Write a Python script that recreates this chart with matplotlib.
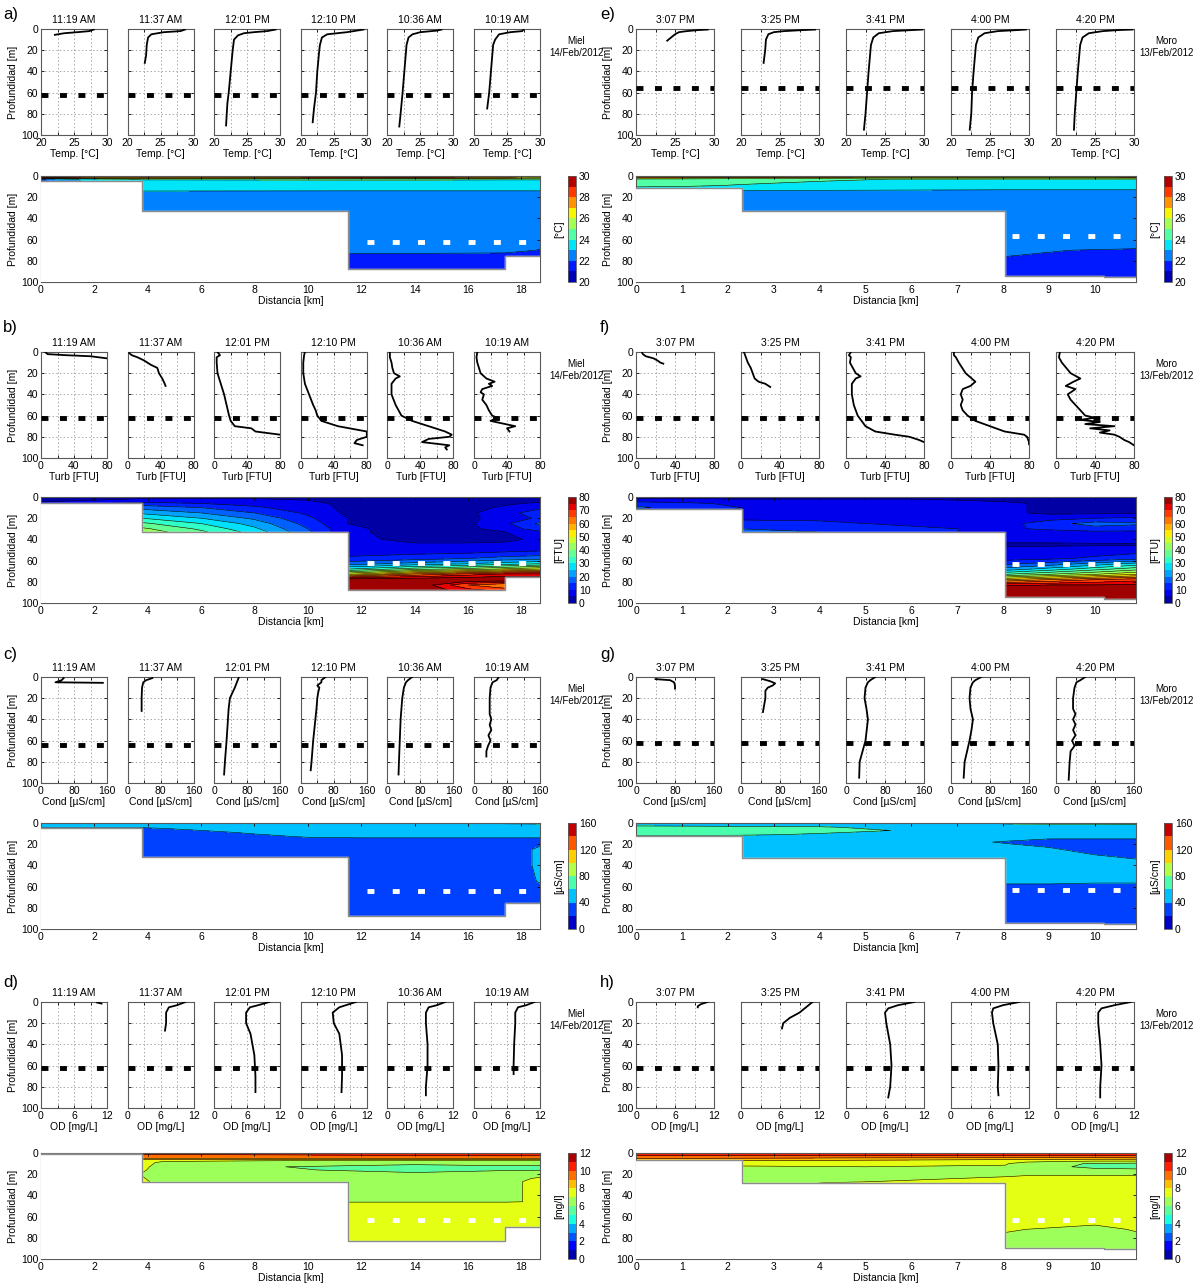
import numpy as np
import matplotlib.pyplot as plt

plt.rcParams['font.family'] = ['Liberation Sans', 'DejaVu Sans']
plt.rcParams['lines.scale_dashes'] = False

# ---------------- data ----------------
times_miel = ['11:19 AM', '11:37 AM', '12:01 PM', '12:10 PM', '10:36 AM', '10:19 AM']
times_moro = ['3:07 PM', '3:25 PM', '3:41 PM', '4:00 PM', '4:20 PM']

# temperature profiles (depth, value)
temp_miel_z = [[0.5, 2, 3, 4, 5.5],
               [0.5, 2, 3, 5, 8, 15, 25, 32],
               [0.5, 2, 3, 4, 6, 10, 15, 20, 40, 60, 70, 80, 91],
               [0.5, 1, 3, 5, 8, 15, 20, 40, 60, 75, 88],
               [0.5, 1.5, 3, 5, 8, 15, 30, 60, 80, 92],
               [0.5, 2, 3, 5, 10, 15, 30, 60, 75]]
temp_miel_v = [[28.0, 27.3, 25.5, 23.5, 22.1],
               [28.7, 28.0, 25.5, 23.6, 23.1, 22.9, 22.8, 22.6],
               [29.3, 28.0, 26.0, 24.5, 23.6, 23.0, 22.9, 22.8, 22.5, 22.2, 22.0, 21.9, 21.8],
               [29.5, 29.0, 27.0, 24.0, 23.2, 22.9, 22.8, 22.5, 22.3, 22.0, 21.8],
               [28.2, 27.5, 25.0, 23.8, 23.2, 22.9, 22.7, 22.3, 22.0, 21.8],
               [27.5, 27.3, 25.5, 23.8, 23.2, 22.9, 22.7, 22.3, 22.0]]
temp_moro_z = [[0.5, 1, 2, 3, 5, 8, 11],
               [0.5, 1, 2, 3, 5, 10, 20, 32],
               [0.5, 1, 2, 4, 8, 15, 40, 60, 80, 95],
               [0.5, 1, 2, 4, 8, 15, 40, 60, 80, 95],
               [0.5, 1, 2, 4, 8, 15, 40, 60, 80, 95]]
temp_moro_v = [[29.2, 28.0, 26.5, 25.5, 25.0, 24.5, 24.0],
               [29.5, 28.0, 25.5, 24.2, 23.5, 23.2, 23.1, 22.9],
               [29.8, 28.5, 26.0, 24.2, 23.5, 23.2, 22.9, 22.7, 22.5, 22.3],
               [29.6, 28.5, 26.0, 24.3, 23.5, 23.2, 22.9, 22.7, 22.6, 22.4],
               [29.8, 28.0, 26.0, 24.2, 23.4, 23.1, 22.8, 22.6, 22.4, 22.3]]

# turbidity profiles
turb_miel_z = [[0, 2, 3, 4, 6],
               [1, 3, 5, 8, 12, 15, 20, 25, 30, 32],
               [0, 3, 5, 10, 20, 30, 40, 50, 60, 65, 70, 72, 75, 78],
               [0, 3, 10, 20, 30, 40, 50, 55, 60, 65, 70, 75, 80, 83, 86, 88],
               [0, 5, 10, 15, 20, 23, 25, 30, 40, 50, 60, 65, 70, 75, 78, 80, 82, 85, 88, 90, 92],
               [0, 5, 10, 20, 25, 28, 30, 32, 35, 38, 40, 45, 50, 55, 60, 62, 65, 68, 70, 72, 75]]
turb_miel_v = [[5, 8, 30, 60, 80],
               [2, 5, 12, 20, 28, 36, 38, 42, 45, 46],
               [4, 7, 3, 3, 4, 8, 12, 15, 18, 20, 25, 45, 50, 80],
               [5, 4, 3, 3, 5, 10, 15, 18, 20, 25, 45, 80, 80, 68, 65, 75],
               [3, 3, 5, 6, 8, 15, 10, 5, 5, 10, 17, 30, 50, 70, 78, 75, 50, 42, 75, 70, 72],
               [4, 3, 4, 8, 15, 25, 18, 22, 10, 8, 12, 10, 15, 18, 22, 28, 20, 38, 50, 40, 43]]
turb_moro_z = [[0, 2, 4, 6, 8, 10, 11],
               [0, 5, 10, 15, 20, 25, 28, 30, 33],
               [0, 3, 5, 10, 20, 23, 25, 30, 40, 50, 60, 70, 75, 78, 80, 83, 85],
               [0, 3, 5, 10, 20, 28, 32, 35, 40, 45, 50, 55, 60, 65, 70, 75, 78, 80, 85, 87],
               [0, 5, 10, 20, 25, 28, 32, 35, 40, 45, 50, 55, 60, 62, 64, 66, 68, 70, 72, 74, 76, 78, 80, 83, 85, 88]]
turb_moro_v = [[6, 7, 10, 18, 22, 25, 28],
               [3, 5, 7, 10, 12, 14, 18, 25, 30],
               [5, 3, 5, 4, 10, 15, 10, 6, 6, 8, 12, 20, 30, 50, 65, 75, 80],
               [3, 3, 5, 8, 15, 25, 20, 12, 10, 12, 10, 12, 17, 25, 40, 55, 75, 78, 80, 80],
               [4, 3, 6, 15, 25, 18, 10, 20, 12, 15, 20, 25, 30, 40, 25, 45, 30, 60, 35, 55, 45, 60, 65, 70, 75, 80]]

# conductivity profiles
cond_miel_z = [[1, 3, 5, 5.5],
               [1, 3, 5, 10, 20, 32],
               [0, 5, 10, 20, 30, 60, 80, 92],
               [0, 3, 5, 8, 10, 15, 20, 30, 60, 80, 88],
               [0, 3, 5, 10, 20, 40, 60, 80, 92],
               [0, 3, 5, 10, 20, 35, 40, 45, 50, 55, 60, 65, 70, 75]]
cond_miel_v = [[55, 50, 35, 150],
               [60, 45, 38, 35, 34, 34],
               [60, 55, 50, 38, 35, 30, 26, 24],
               [60, 50, 50, 40, 45, 42, 40, 38, 30, 26, 24],
               [60, 50, 45, 40, 36, 32, 30, 28, 27],
               [60, 55, 45, 40, 38, 38, 42, 38, 42, 35, 40, 34, 30, 30]]
cond_moro_z = [[2, 3, 5, 8, 11],
               [2, 4, 6, 8, 10, 13, 20, 33],
               [0, 3, 5, 10, 20, 30, 40, 60, 80, 95],
               [0, 3, 5, 10, 20, 30, 40, 50, 60, 80, 95],
               [0, 3, 5, 10, 20, 30, 35, 40, 45, 50, 55, 60, 65, 70, 80, 97]]
cond_moro_v = [[40, 70, 78, 80, 80],
               [45, 60, 70, 65, 55, 50, 50, 45],
               [60, 50, 45, 40, 38, 42, 45, 40, 28, 27],
               [62, 50, 45, 40, 38, 40, 45, 42, 38, 28, 26],
               [60, 50, 42, 38, 35, 35, 40, 35, 40, 35, 40, 33, 38, 30, 28, 26]]

# dissolved oxygen profiles
od_miel_z = [[0.5, 1.5],
             [0, 3, 5, 10, 20, 27],
             [0, 3, 5, 10, 20, 30, 50, 70, 85],
             [0, 5, 10, 20, 30, 50, 70, 85],
             [0, 3, 5, 10, 20, 40, 60, 80, 88],
             [0, 3, 5, 10, 20, 40, 60, 68]]
od_miel_v = [[10.2, 11.0],
             [10.5, 9.0, 7.5, 7.0, 7.0, 6.8],
             [10.0, 8.0, 6.5, 5.8, 5.8, 6.6, 7.3, 7.5, 7.5],
             [10.0, 7.0, 5.8, 6.0, 7.0, 7.5, 7.5, 7.4],
             [10.5, 9.0, 7.5, 7.0, 7.0, 7.3, 7.3, 7.0, 7.0],
             [11.0, 9.5, 8.0, 7.5, 7.5, 7.3, 7.2, 7.2]]
od_moro_z = [[0, 2, 4, 5],
             [0, 5, 10, 15, 20, 25],
             [0, 3, 6, 10, 20, 40, 60, 80, 90],
             [0, 3, 6, 10, 20, 40, 60, 80, 88],
             [0, 3, 6, 10, 20, 40, 60, 80, 90]]
od_moro_v = [[11.0, 10.0, 9.5, 9.5],
             [11.0, 10.0, 9.0, 7.5, 6.5, 6.3],
             [10.5, 8.0, 6.5, 6.0, 6.2, 6.8, 7.0, 6.8, 6.5],
             [10.5, 8.0, 6.5, 6.3, 6.5, 7.2, 7.3, 7.2, 7.3],
             [11.5, 9.0, 7.0, 6.5, 6.5, 6.8, 7.0, 6.8, 6.8]]

# bathymetry steps
edges_miel = [0, 3.8, 11.5, 17.4, 18.7]
edges_moro = [0, 2.3, 8.05, 10.2, 10.9]
bot_a = [5, 33, 88, 75]
bot_b = [6, 33, 88, 75]
bot_c = [5, 32, 88, 75]
bot_d = [1, 27, 83, 70]
bot_e = [11, 33, 94, 95]
bot_f = [11, 33, 94, 96]
bot_g = [12, 33, 94, 95]
bot_h = [7, 28, 90, 91]

# section grids (rows = depth, cols = distance)
sec_a_x = [0, 2, 3.8, 11.5, 14, 17.4, 18.7]
sec_a_z = [0, 1.5, 3, 5, 13, 15, 40, 70, 76, 100]
sec_a_v = [[28.5, 28.5, 28.6, 29.2, 29.3, 28.5, 26.8],
           [28.0, 27.5, 27.0, 27.5, 27.8, 27.0, 25.8],
           [21.9, 23.5, 24.2, 24.3, 24.3, 24.2, 24.2],
           [21.8, 23.4, 23.6, 23.6, 23.6, 23.6, 23.6],
           [23.3, 23.3, 23.3, 23.2, 23.2, 23.2, 23.2],
           [22.8, 22.8, 22.8, 22.8, 22.8, 22.8, 22.8],
           [22.5, 22.5, 22.5, 22.5, 22.5, 22.5, 22.5],
           [22.2, 22.2, 22.2, 22.2, 22.2, 22.15, 21.98],
           [21.8, 21.8, 21.8, 21.8, 21.8, 21.8, 21.8],
           [21.7, 21.7, 21.7, 21.7, 21.7, 21.7, 21.7]]

sec_b_x = [0, 3.8, 6, 8, 10, 11.5, 14, 16, 17.4, 18.7]
sec_b_z = [0, 3, 6, 10, 15, 20, 25, 30, 33, 40, 50, 58, 63, 68, 73, 78, 83, 88, 100]
sec_b_v = [[3, 4, 4, 4, 4, 4, 4, 4, 4, 4],
           [4, 6, 6, 6, 5, 4, 3, 3, 3, 3],
           [6, 12, 10, 8, 6, 4, 3, 3, 4, 6],
           [6, 18, 15, 11, 7, 4, 3, 3, 6, 9],
           [6, 24, 20, 15, 9, 4, 3, 4, 8, 13],
           [6, 30, 25, 19, 11, 5, 3, 4, 7, 11],
           [6, 36, 30, 23, 13, 5, 3, 4, 9, 16],
           [6, 41, 34, 26, 15, 6, 3, 4, 7, 13],
           [6, 43, 36, 28, 16, 6, 3, 4, 5, 9],
           [6, 43, 36, 28, 16, 6, 4, 4, 4, 6],
           [6, 43, 36, 28, 16, 7, 7, 7, 8, 9],
           [6, 43, 36, 28, 16, 11, 13, 15, 17, 18],
           [6, 43, 36, 28, 16, 18, 22, 25, 28, 30],
           [6, 43, 36, 28, 16, 30, 38, 42, 46, 50],
           [6, 43, 36, 28, 16, 50, 62, 68, 72, 72],
           [6, 43, 36, 28, 16, 79, 82, 82, 82, 82],
           [6, 43, 36, 28, 16, 82, 80, 65, 60, 82],
           [6, 43, 36, 28, 16, 82, 80, 72, 68, 82],
           [6, 43, 36, 28, 16, 82, 80, 72, 68, 82]]

sec_c_x = [0, 3.8, 6, 8, 10, 12, 16, 17.5, 18.7]
sec_c_z = [0, 2, 5, 9, 13, 16, 25, 40, 55, 70, 100]
sec_c_v = [[45, 45, 45, 45, 48, 58, 62, 70, 75],
           [44, 44, 44, 44, 44, 44, 44, 44, 44],
           [38, 39, 42, 43, 43, 43, 43, 43, 43],
           [36, 36, 38, 41, 42, 42, 42, 42, 42],
           [35, 35, 36, 38, 40.5, 41, 41, 41, 41],
           [35, 35, 35, 36, 37, 38, 38, 38, 38],
           [35, 35, 35, 35, 35, 35, 36, 37, 41],
           [35, 35, 35, 35, 35, 35, 35, 37, 41],
           [35, 35, 35, 35, 35, 35, 35, 36, 40.5],
           [34, 34, 34, 34, 34, 34, 34, 34, 36],
           [32, 32, 32, 32, 32, 32, 32, 32, 32]]

sec_d_x = [0, 3.8, 4.6, 8, 11.5, 14, 17.4, 18.7]
sec_d_z = [0, 2, 4, 5.5, 7, 9, 13, 16, 20, 24, 27, 40, 46, 50, 100]
sec_d_v = [[10.5, 10.5, 10.5, 10.6, 10.8, 11.2, 11.3, 11.3],
           [9.8, 9.8, 9.8, 9.9, 10.0, 10.2, 10.3, 10.3],
           [9.3, 9.3, 9.3, 9.3, 9.3, 9.3, 9.3, 9.3],
           [8.5, 8.5, 8.5, 8.5, 8.5, 8.5, 8.5, 8.5],
           [7.8, 7.6, 7.2, 7.1, 7.0, 7.0, 7.0, 7.0],
           [7.5, 7.3, 6.8, 6.6, 6.3, 6.2, 6.3, 6.3],
           [7.4, 7.2, 6.6, 6.05, 5.9, 5.8, 5.9, 5.9],
           [7.3, 7.1, 6.6, 6.1, 5.95, 5.85, 5.95, 5.95],
           [7.0, 6.95, 6.7, 6.6, 6.2, 6.1, 6.3, 6.7],
           [7.1, 7.05, 6.7, 6.7, 6.5, 6.5, 6.7, 7.1],
           [7.2, 7.1, 6.8, 6.8, 6.7, 6.7, 6.8, 7.2],
           [7.2, 7.2, 6.9, 6.9, 6.9, 6.9, 6.9, 7.1],
           [7.2, 7.2, 7.0, 6.95, 6.97, 6.97, 6.97, 7.03],
           [7.3, 7.3, 7.3, 7.3, 7.3, 7.3, 7.3, 7.3],
           [7.4, 7.4, 7.4, 7.4, 7.4, 7.4, 7.4, 7.4]]

sec_e_x = [0, 1, 2.3, 4, 5.5, 8.05, 10.9]
sec_e_z = [0, 1.5, 3, 6, 9, 12, 14, 60, 70, 100]
sec_e_v = [[29.3, 29.3, 29.3, 29.3, 29.3, 29.4, 29.6],
           [26.5, 26.5, 26.0, 25.8, 25.5, 25.5, 25.5],
           [24.8, 24.7, 24.5, 24.2, 24.0, 23.9, 23.9],
           [24.6, 24.5, 24.2, 23.9, 23.7, 23.6, 23.6],
           [24.3, 24.2, 23.9, 23.6, 23.5, 23.4, 23.4],
           [23.6, 23.5, 23.4, 23.3, 23.2, 23.1, 23.1],
           [22.9, 22.9, 22.9, 22.9, 22.9, 22.9, 22.9],
           [22.3, 22.3, 22.3, 22.3, 22.3, 22.3, 22.3],
           [22.1, 22.1, 22.1, 22.1, 22.1, 22.05, 21.95],
           [21.8, 21.8, 21.8, 21.8, 21.8, 21.8, 21.8]]

sec_f_x = [0, 1, 2.3, 4, 6, 8.05, 9, 10, 10.9]
sec_f_z = [0, 3, 6, 10, 15, 20, 25, 30, 33, 45, 58, 63, 68, 73, 78, 83, 88, 100]
sec_f_v = [[3, 3, 3, 3, 3, 3, 3, 3, 2],
           [7, 7, 6, 6, 6, 4, 3, 3, 3],
           [13, 11, 9, 7, 7, 6, 4, 3, 3],
           [16, 13, 10, 8, 7, 6, 4, 4, 4],
           [12, 11, 9, 8, 7, 6, 4, 4, 4],
           [10, 10, 9, 9, 8, 7, 8, 10, 11],
           [10, 10, 12, 11, 9, 8, 13, 17, 16],
           [10, 10, 15, 13, 11, 9, 11, 13, 12],
           [10, 10, 17, 15, 12, 8, 8, 9, 9],
           [10, 10, 10, 8, 7, 4.5, 4.5, 4.5, 4.5],
           [10, 10, 10, 8, 8, 8, 9, 11, 13],
           [10, 10, 10, 8, 8, 14, 17, 22, 27],
           [10, 10, 10, 8, 8, 22, 27, 33, 38],
           [10, 10, 10, 8, 8, 35, 40, 45, 50],
           [10, 10, 10, 8, 8, 55, 60, 65, 68],
           [10, 10, 10, 8, 8, 74, 75, 75, 76],
           [10, 10, 10, 8, 8, 82, 82, 82, 82],
           [10, 10, 10, 8, 8, 82, 82, 82, 82]]

sec_g_x = [0, 2.3, 4, 5.2, 7.5, 8.05, 9, 10, 10.9]
sec_g_z = [0, 2, 4, 7, 11, 14, 18, 23, 30, 36, 45, 55, 60, 100]
sec_g_v = [[45, 45, 45, 45, 58, 70, 75, 75, 80],
           [55, 52, 50, 48, 48, 48, 48, 48, 48],
           [68, 66, 63, 55, 48, 48, 48, 48, 48],
           [70, 68, 65, 62, 49, 48, 48, 48, 48],
           [64, 62, 58, 52, 48, 47, 46, 45, 45],
           [50, 50, 50, 50, 46, 44, 41, 41, 41],
           [50, 50, 50, 50, 41, 39, 37, 37, 37],
           [50, 50, 50, 50, 46, 43, 40, 38, 37],
           [50, 50, 50, 50, 47, 45, 42, 40, 38],
           [50, 50, 50, 50, 48, 47, 45, 42, 41],
           [48, 48, 48, 48, 47, 46, 45, 44, 41],
           [45, 45, 45, 45, 43, 42, 42, 41, 41],
           [38, 38, 38, 38, 38, 38, 38, 38, 38],
           [35, 35, 35, 35, 35, 35, 35, 35, 35]]

sec_h_x = [0, 2.3, 5, 8.05, 8.5, 10, 10.9]
sec_h_z = [0, 2, 4, 6, 8, 10, 13, 16, 20, 24, 28, 60, 68, 72, 78, 100]
sec_h_v = [[10.5, 10.5, 10.5, 10.5, 10.5, 10.6, 11.2],
           [10.1, 10.1, 10.1, 10.1, 10.1, 10.1, 10.1],
           [9.5, 9.4, 9.3, 9.3, 9.3, 9.3, 9.4],
           [8.6, 8.5, 8.3, 8.1, 8.0, 7.9, 7.9],
           [8.2, 7.7, 7.5, 7.4, 7.2, 6.8, 6.8],
           [8.0, 7.3, 7.2, 7.1, 6.5, 5.9, 5.8],
           [7.8, 6.9, 7.0, 6.9, 6.4, 5.8, 5.8],
           [7.6, 6.8, 6.8, 6.8, 6.4, 6.2, 6.1],
           [7.5, 6.7, 6.7, 6.85, 6.9, 6.9, 6.9],
           [7.5, 6.8, 6.8, 7.1, 7.2, 7.2, 7.2],
           [7.5, 6.9, 7.05, 7.3, 7.3, 7.3, 7.3],
           [7.4, 7.4, 7.4, 7.4, 7.4, 7.4, 7.4],
           [7.3, 7.3, 7.2, 7.15, 7.1, 7.0, 7.1],
           [7.2, 7.2, 7.1, 7.05, 7.0, 6.9, 7.03],
           [7.0, 7.0, 7.0, 6.95, 6.95, 6.9, 6.95],
           [6.8, 6.8, 6.8, 6.8, 6.8, 6.8, 6.8]]

# ---------------- layout (pixels) ----------------
W, H = 1197, 1283
fig = plt.figure(figsize=(W / 100, H / 100), dpi=100)


def box(x, y, w, h):
    return [x / W, 1 - (y + h) / H, w / W, h / H]


prof_top = [29, 352, 677, 1002]
sec_top = [176, 497, 823, 1153]
letter_y = [15, 327, 655, 983]
PH, SH = 106, 106
FS = 7.5
SPC = '0.35'


def style(ax):
    ax.tick_params(direction='in', length=2.5, width=0.6, labelsize=FS, pad=2,
                   top=True, right=True, colors='k')
    for s in ax.spines.values():
        s.set_color(SPC)
        s.set_linewidth(0.8)


def profiles(col, row, zs, vs, xlim, xticks, xlabs, xlab, dash):
    if col == 0:
        x0, step, w, titles = 41, 86.6, 66, times_miel
    else:
        x0, step, w, titles = 636, 105, 78, times_moro
    for i in range(len(zs)):
        ax = fig.add_axes(box(x0 + step * i, prof_top[row], w, PH))
        ax.plot(vs[i], zs[i], color='k', lw=1.3, zorder=3)
        ax.axhline(dash, color='k', lw=3.5, dashes=(5, 8.3), zorder=4)
        ax.set_xlim(xlim)
        ax.set_ylim(100, 0)
        ax.set_xticks(xticks)
        ax.set_xticklabels(xlabs)
        ax.set_yticks(range(0, 101, 20))
        ax.grid(True, ls=':', color='0.6', lw=0.6)
        style(ax)
        ax.set_title(titles[i], fontsize=FS, pad=4)
        ax.set_xlabel(xlab, fontsize=FS, labelpad=1)
        if i == 0:
            ax.set_ylabel('Profundidad [m]', fontsize=FS, labelpad=2)
        else:
            ax.set_yticklabels([])


def section(col, row, sx, sz, sv, levels, cticks, clab, edges, bot, dash, dash_x):
    if col == 0:
        ax = fig.add_axes(box(41, sec_top[row], 499, SH))
        cax = fig.add_axes(box(568, sec_top[row], 8, SH))
        xmax, xt = 18.7, range(0, 19, 2)
    else:
        ax = fig.add_axes(box(636, sec_top[row], 500, SH))
        cax = fig.add_axes(box(1164, sec_top[row], 8, SH))
        xmax, xt = 10.9, range(0, 11, 1)
    lo, hi = levels[0], levels[-1]
    v = np.clip(np.array(sv, dtype=float), lo + 1e-3, hi - 1e-3)
    X, Z = np.meshgrid(sx, sz)
    cs = ax.contourf(X, Z, v, levels=levels, cmap='jet', vmin=lo, vmax=hi)
    ax.contour(X, Z, v, levels=levels, colors='k', linewidths=0.4)
    # land mask
    px, pz = [], []
    for k in range(len(bot)):
        px += [edges[k], edges[k + 1]]
        pz += [bot[k], bot[k]]
    ax.fill(px + [edges[-1], edges[0]], pz + [101, 101], color='white', zorder=3)
    ax.plot(px, pz, color='0.55', lw=1, zorder=4)
    ax.plot(dash_x, [dash, dash], color='white', lw=3.5, dashes=(5, 13.2), zorder=5)
    ax.set_xlim(0, xmax)
    ax.set_ylim(100, 0)
    ax.set_xticks(list(xt))
    ax.set_yticks(range(0, 101, 20))
    style(ax)
    ax.set_xlabel('Distancia [km]', fontsize=FS, labelpad=1)
    ax.set_ylabel('Profundidad [m]', fontsize=FS, labelpad=2)
    cb = fig.colorbar(cs, cax=cax, ticks=cticks)
    cb.outline.set_edgecolor(SPC)
    cb.outline.set_linewidth(0.6)
    cax.tick_params(labelsize=FS, length=0, pad=2)
    cax.yaxis.set_label_position('left')
    cax.set_ylabel(clab, fontsize=FS, labelpad=3)


letters = ['a)', 'b)', 'c)', 'd)', 'e)', 'f)', 'g)', 'h)']
for col in range(2):
    for row in range(4):
        fig.text((3 if col == 0 else 600) / W, 1 - letter_y[row] / H, letters[col * 4 + row],
                 fontsize=12, va='center', ha='left')
        tx = 576 if col == 0 else 1166
        lab = 'Miel\n14/Feb/2012' if col == 0 else 'Moro\n13/Feb/2012'
        fig.text(tx / W, 1 - (prof_top[row] + 18) / H, lab, fontsize=7, ha='center',
                 va='center', linespacing=1.2)

temp_lv = np.arange(20, 31, 1)
turb_lv = np.arange(0, 81, 5)
cond_lv = np.arange(0, 161, 20)
od_lv = np.arange(0, 13, 1)

t_ticks, t_labs = [20, 22.5, 25, 27.5, 30], ['20', '', '25', '', '30']
u_ticks, u_labs = [0, 20, 40, 60, 80], ['0', '', '40', '', '80']
c_ticks, c_labs = [0, 40, 80, 120, 160], ['0', '', '80', '', '160']
o_ticks, o_labs = [0, 3, 6, 9, 12], ['0', '', '6', '', '12']

# Miel (left)
profiles(0, 0, temp_miel_z, temp_miel_v, (20, 30), t_ticks, t_labs, 'Temp. [°C]', 62)
section(0, 0, sec_a_x, sec_a_z, sec_a_v, temp_lv, range(20, 31, 2), '[°C]',
        edges_miel, bot_a, 62, [12.2, 18.2])
profiles(0, 1, turb_miel_z, turb_miel_v, (0, 80), u_ticks, u_labs, 'Turb [FTU]', 62)
section(0, 1, sec_b_x, sec_b_z, sec_b_v, turb_lv, range(0, 81, 10), '[FTU]',
        edges_miel, bot_b, 62, [12.2, 18.2])
profiles(0, 2, cond_miel_z, cond_miel_v, (0, 160), c_ticks, c_labs, 'Cond [µS/cm]', 64)
section(0, 2, sec_c_x, sec_c_z, sec_c_v, cond_lv, range(0, 161, 40), '[µS/cm]',
        edges_miel, bot_c, 64, [12.2, 18.2])
profiles(0, 3, od_miel_z, od_miel_v, (0, 12), o_ticks, o_labs, 'OD [mg/L]', 62)
section(0, 3, sec_d_x, sec_d_z, sec_d_v, od_lv, range(0, 13, 2), '[mg/l]',
        edges_miel, bot_d, 63, [12.2, 18.2])

# Moro (right)
profiles(1, 0, temp_moro_z, temp_moro_v, (20, 30), t_ticks, t_labs, 'Temp. [°C]', 56)
section(1, 0, sec_e_x, sec_e_z, sec_e_v, temp_lv, range(20, 31, 2), '[°C]',
        edges_moro, bot_e, 57, [8.2, 10.6])
profiles(1, 1, turb_moro_z, turb_moro_v, (0, 80), u_ticks, u_labs, 'Turb [FTU]', 62)
section(1, 1, sec_f_x, sec_f_z, sec_f_v, turb_lv, range(0, 81, 10), '[FTU]',
        edges_moro, bot_f, 63, [8.2, 10.6])
profiles(1, 2, cond_moro_z, cond_moro_v, (0, 160), c_ticks, c_labs, 'Cond [µS/cm]', 62)
section(1, 2, sec_g_x, sec_g_z, sec_g_v, cond_lv, range(0, 161, 40), '[µS/cm]',
        edges_moro, bot_g, 63, [8.2, 10.6])
profiles(1, 3, od_moro_z, od_moro_v, (0, 12), o_ticks, o_labs, 'OD [mg/L]', 62)
section(1, 3, sec_h_x, sec_h_z, sec_h_v, od_lv, range(0, 13, 2), '[mg/l]',
        edges_moro, bot_h, 63, [8.2, 10.6])

fig.savefig('out.png', dpi=100)
